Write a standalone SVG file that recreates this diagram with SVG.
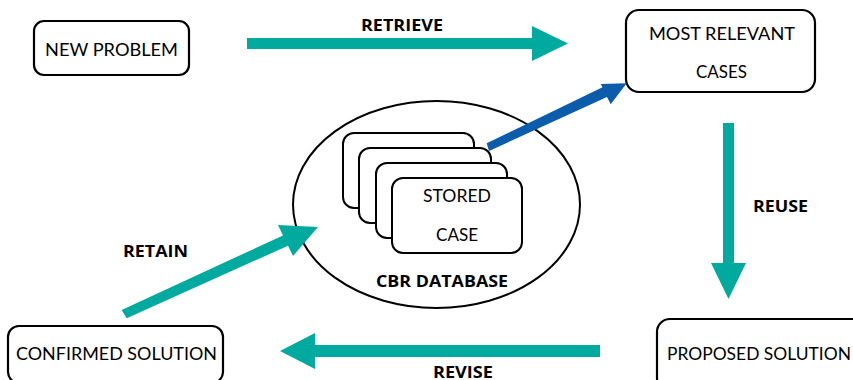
<svg xmlns="http://www.w3.org/2000/svg" width="853" height="380" viewBox="0 0 853 380">
<style>
.box{fill:#fff;stroke:#000;stroke-width:2.2}
.card{fill:#fff;stroke:#000;stroke-width:2}
.t{font-family:Lato,"Open Sans","Liberation Sans",sans-serif;font-size:18px;fill:#000}
.lb{font-family:"Open Sans",Lato,"Liberation Sans",sans-serif;font-size:15.5px;font-weight:700;fill:#000}
.teal{fill:#00AA9E}
.blue{fill:#0B5CAB}
</style>
<rect width="853" height="380" fill="#fff"/>
<g id="cbr-database">
<ellipse cx="436.5" cy="204.5" rx="143.5" ry="103.5" fill="#fff" stroke="#000" stroke-width="2"/>
<text class="lb" x="376" y="287" textLength="132" lengthAdjust="spacingAndGlyphs">CBR DATABASE</text>
</g>
<g id="stored-cases">
<rect class="card" x="343" y="133" width="131" height="75" rx="11"/>
<rect class="card" x="359" y="148" width="132" height="75" rx="11"/>
<rect class="card" x="376" y="163" width="131" height="75" rx="11"/>
<rect class="card" x="392" y="178" width="130" height="75" rx="11"/>
<text class="t" x="423" y="202" textLength="68" lengthAdjust="spacingAndGlyphs">STORED</text>
<text class="t" x="436" y="241" textLength="42" lengthAdjust="spacingAndGlyphs">CASE</text>
</g>
<g id="new-problem">
<rect class="box" x="34" y="21" width="155" height="54" rx="10"/>
<text class="t" x="45" y="56" textLength="133" lengthAdjust="spacingAndGlyphs">NEW PROBLEM</text>
</g>
<g id="most-relevant-cases">
<rect class="box" x="626" y="10" width="189" height="82" rx="13"/>
<text class="t" x="649" y="40" textLength="146" lengthAdjust="spacingAndGlyphs">MOST RELEVANT</text>
<text class="t" x="696" y="78" textLength="51" lengthAdjust="spacingAndGlyphs">CASES</text>
</g>
<g id="proposed-solution">
<rect class="box" x="657" y="319" width="220" height="72" rx="13"/>
<text class="t" x="667" y="360" textLength="184" lengthAdjust="spacingAndGlyphs">PROPOSED SOLUTION</text>
</g>
<g id="confirmed-solution">
<rect class="box" x="8" y="326" width="215" height="57" rx="11"/>
<text class="t" x="16" y="360" textLength="201" lengthAdjust="spacingAndGlyphs">CONFIRMED SOLUTION</text>
</g>
<g id="connectors">
<polygon class="teal" points="247,38 532,38 532,26 568,43.5 532,61 532,49 247,49"/>
<text class="lb" x="361" y="31" textLength="82" lengthAdjust="spacingAndGlyphs">RETRIEVE</text>
<polygon class="blue" points="486.7,143.3 602.5,87.3 600.7,84 626.7,83.3 610.7,104.3 607,97 489,151"/>
<polygon class="teal" points="723,123 734,123 734,263 746,263 728.5,299 711,263 723,263"/>
<text class="lb" x="753" y="212" textLength="55" lengthAdjust="spacingAndGlyphs">REUSE</text>
<polygon class="teal" points="600,345 315,345 315,333 280,351 315,369 315,357 600,357"/>
<text class="lb" x="433" y="378" textLength="60" lengthAdjust="spacingAndGlyphs">REVISE</text>
<polygon class="teal" points="121.7,310 283,235.4 278,225 318,227 293,256 288,245.7 126.7,318.3"/>
<text class="lb" x="123" y="257" textLength="65" lengthAdjust="spacingAndGlyphs">RETAIN</text>
</g>
</svg>
